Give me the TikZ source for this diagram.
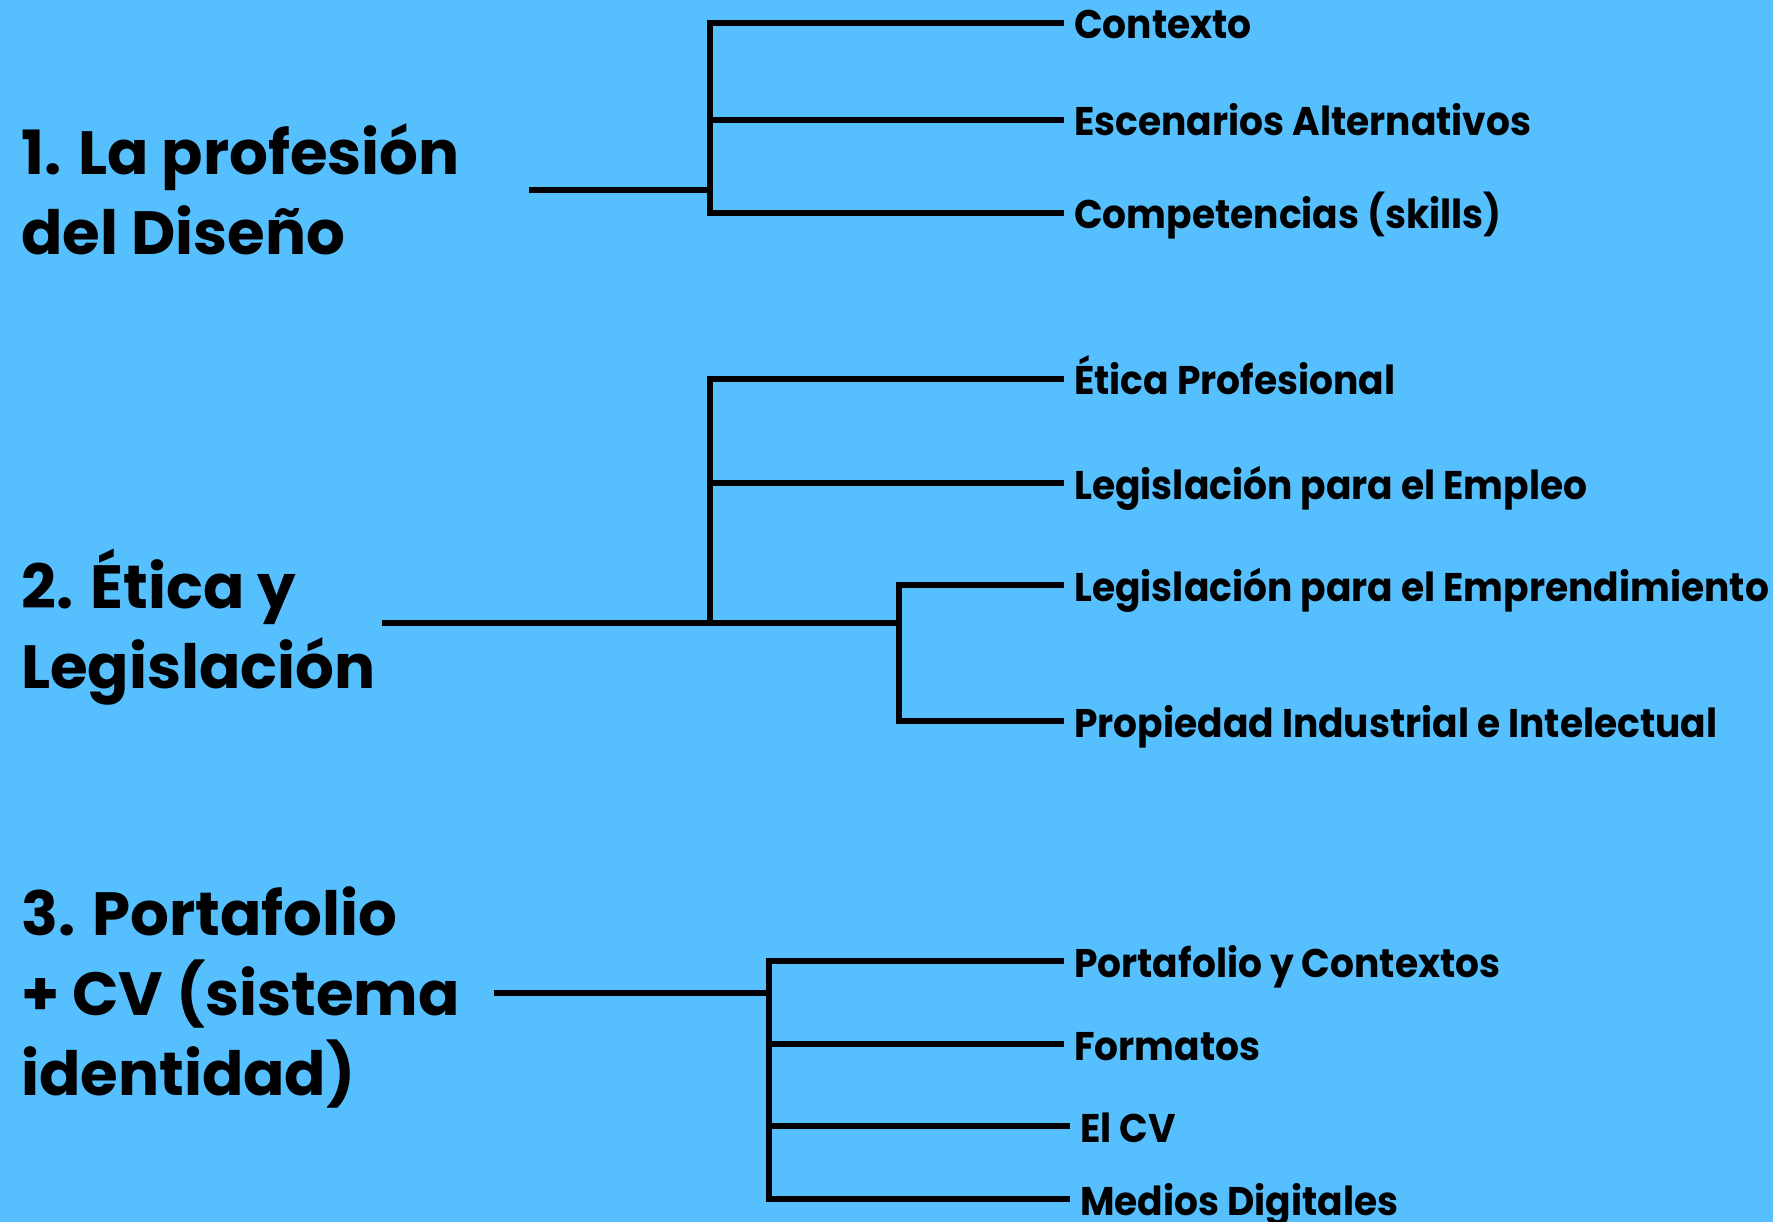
\documentclass[tikz,border=0pt]{standalone}
\usepackage{fontspec}
\setmainfont{Poppins}
\newfontfamily\itemfont{Poppins}[FakeStretch=0.94]
\usepackage{tikz}
\usepackage{xcolor}
\definecolor{skyback}{HTML}{56BFFE}
\tikzset{
    topic/.style = {anchor=base west, align=left, inner sep=0pt, font=\fontsize{61}{80}\selectfont\bfseries},
    item/.style = {anchor=west, inner xsep=10pt, inner ysep=0pt, text height=32pt, text depth=0pt, font=\itemfont\fontsize{40}{48}\selectfont\bfseries},
    branch/.style = {line width=5.5pt},
    stem/.style = {line width=6pt},
}

\begin{document}
\begin{tikzpicture}[x=1pt, y=-1pt]
\fill[skyback] (0,0) rectangle (1773,1222);
\useasboundingbox (0,0) rectangle (1773,1222);
% 1. La profesion del Diseno
\node[topic] (t1) at (21,255) {1. La profesión\\del Diseño};
\coordinate (s1) at (529,190);
\coordinate (j1) at (710,190);
\node[item] (contexto) at (1064,23) {Contexto};
\node[item] (escenarios) at (1064,120) {Escenarios Alternativos};
\node[item] (competencias) at (1064,213) {Competencias (skills)};
\draw[stem] (s1) -- (j1);
\foreach \n in {contexto, escenarios, competencias}
    \draw[branch] (j1) |- (\n.west);
% 2. Etica y Legislacion
\node[topic] (t2) at (21,688) {2. Ética y\\Legislación};
\coordinate (s2) at (382,623);
\coordinate (j2) at (710,623);
\coordinate (k2) at (899,623);
\node[item] (etica) at (1064,379) {Ética Profesional};
\node[item] (empleo) at (1064,483) {Legislación para el Empleo};
\node[item] (emprende) at (1064,585) {Legislación para el Emprendimiento};
\node[item] (propiedad) at (1064,721) {Propiedad Industrial e Intelectual};
\draw[stem] (s2) -- (k2);
\foreach \n in {etica, empleo}
    \draw[branch] (j2) |- (\n.west);
\foreach \n in {emprende, propiedad}
    \draw[branch] (k2) |- (\n.west);
% 3. Portafolio + CV
\node[topic] (t3) at (21,1095) {3. Portafolio\\+ CV (sistema\\identidad)};
\coordinate (s3) at (494,993);
\coordinate (j3) at (769,993);
\node[item] (portafolio) at (1064,961) {Portafolio y Contextos};
\node[item] (formatos) at (1064,1044) {Formatos};
\node[item] (elcv) at (1070,1126) {El CV};
\node[item] (medios) at (1070,1199) {Medios Digitales};
\draw[stem] (s3) -- (j3);
\foreach \n in {portafolio, formatos, elcv, medios}
    \draw[branch] (j3) |- (\n.west);
\end{tikzpicture}
\end{document}
